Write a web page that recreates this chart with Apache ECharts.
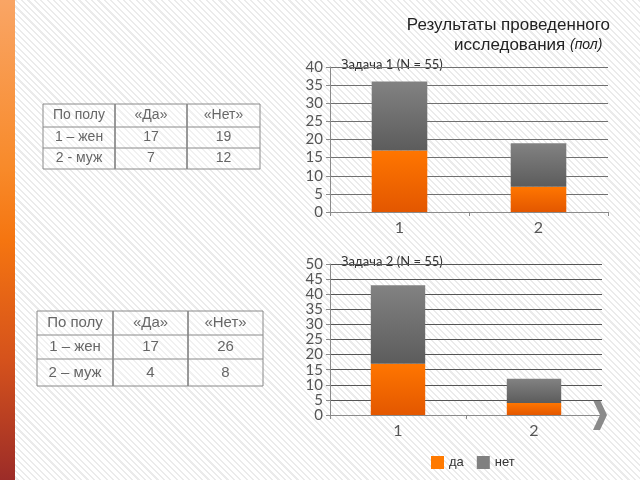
<!DOCTYPE html>
<html><head><meta charset="utf-8">
<script src="https://cdn.jsdelivr.net/npm/echarts@6/dist/echarts.min.js"></script>
<style>
html,body{margin:0;padding:0;width:640px;height:480px;overflow:hidden;
background:#fff repeating-linear-gradient(45deg,#fff 0px,#fff 3px,#ebebeb 3px,#ebebeb 4.5px);}
#strip{position:absolute;left:0;top:0;width:15px;height:480px;
background:linear-gradient(to bottom,#f9a565 0%,#f88a2a 35%,#f57510 50%,#d5521c 75%,#9c2c28 100%);}
#c{position:absolute;left:0;top:0;width:640px;height:480px;}
</style></head><body>
<div id="strip"></div>
<div id="c"></div>
<script>
const categories = ['1', '2'];
const task1Yes = [17, 7];
const task1No = [19, 12];
const task2Yes = [17, 4];
const task2No = [26, 8];
const tableHeader = ['По полу', '«Да»', '«Нет»'];
const table1Rows = [['1 – жен', '17', '19'], ['2 - муж', '7', '12']];
const table2Rows = [['1 – жен', '17', '26'], ['2 – муж', '4', '8']];
const chart1Title = 'Задача 1 (N = 55)';
const chart2Title = 'Задача 2 (N = 55)';
const legendNames = ['да', 'нет'];

const FONT = '"Liberation Sans", "DejaVu Sans", sans-serif';
const CFONT = 'Lato, "Liberation Sans", sans-serif';
const orange = new echarts.graphic.LinearGradient(0,0,0,1,[{offset:0,color:'#ff7600'},{offset:1,color:'#e35700'}]);
const gray = new echarts.graphic.LinearGradient(0,0,0,1,[{offset:0,color:'#828282'},{offset:1,color:'#5c5c5c'}]);

function buildTable(x, y, colW, rowH, header, rows, fs) {
  const els = [];
  const allRows = [header].concat(rows);
  const W = colW.reduce((a,b)=>a+b,0);
  const H = rowH.reduce((a,b)=>a+b,0);
  els.push({type:'rect', shape:{x:x, y:y, width:W, height:H}, style:{fill:'rgba(255,255,255,0.3)', stroke:'#8a8a8a', lineWidth:1}});
  let cy = y;
  for (let r = 0; r < allRows.length; r++) {
    let cx = x;
    for (let c = 0; c < colW.length; c++) {
      els.push({type:'text', x: cx + colW[c]/2, y: cy + rowH[r]/2,
        style:{text: allRows[r][c], fill:'#666', font: fs + 'px ' + FONT, align:'center', verticalAlign:'middle'}});
      if (c > 0) els.push({type:'line', shape:{x1:cx, y1:y, x2:cx, y2:y+H}, style:{stroke:'#8a8a8a', lineWidth:1}});
      cx += colW[c];
    }
    if (r > 0) els.push({type:'line', shape:{x1:x, y1:cy, x2:x+W, y2:cy}, style:{stroke:'#8a8a8a', lineWidth:1}});
    cy += rowH[r];
  }
  return els;
}

const chart = echarts.init(document.getElementById('c'), null, {renderer:'canvas'});

function yAxisCfg(gridIndex, max, lineColor) {
  return {type:'value', gridIndex:gridIndex, min:0, max:max, interval:5,
    axisLine:{show:true, lineStyle:{color:'#8a8a8a'}},
    axisTick:{show:true, length:4, lineStyle:{color:'#8a8a8a'}},
    axisLabel:{color:'#555', fontSize:15, fontFamily:CFONT, margin:7},
    splitLine:{show:true, lineStyle:{color:lineColor, width:1.2}}};
}
function xAxisCfg(gridIndex) {
  return {type:'category', gridIndex:gridIndex, data:categories,
    axisLine:{show:true, lineStyle:{color:'#8a8a8a'}},
    axisTick:{show:true, length:4, lineStyle:{color:'#8a8a8a'}},
    axisLabel:{color:'#555', fontSize:16, fontFamily:CFONT, margin:8}};
}

const graphics = []
  .concat(buildTable(43, 104, [72, 72, 73], [23, 21, 21], tableHeader, table1Rows, 14))
  .concat(buildTable(37, 311, [76, 75, 75], [24, 24, 27], tableHeader, table2Rows, 15))
  .concat([
    {type:'text', right:30, top:17, style:{text:'Результаты проведенного', fill:'#222', font:'17px ' + FONT, align:'right'}},
    {type:'text', left:454, top:37, style:{rich:{a:{fontSize:17, fontFamily:FONT, fill:'#222'}, b:{fontSize:14, fontStyle:'italic', fontFamily:FONT, fill:'#222'}}, text:'{a|исследования }{b|(пол)}'}},
    {type:'text', left:341, top:58, style:{text:chart1Title, fill:'#333', font:'13px ' + CFONT}},
    {type:'text', left:341, top:255, style:{text:chart2Title, fill:'#333', font:'13px ' + CFONT}},
    {type:'polygon', shape:{points:[[593,400],[600,400],[607,415],[600,430],[593,430],[600,415]]}, style:{fill:'#8a8a8a'}}
  ]);

chart.setOption({
  backgroundColor:'transparent',
  animation:false,
  grid:[
    {left:330, right:32, top:67, bottom:268},
    {left:330, right:38, top:264, bottom:65}
  ],
  xAxis:[xAxisCfg(0), xAxisCfg(1)],
  yAxis:[yAxisCfg(0, 40, '#707070'), yAxisCfg(1, 50, '#555')],
  legend:{data:[{name:legendNames[0], itemStyle:{color:'#ff7a00'}}, {name:legendNames[1], itemStyle:{color:'#808080'}}],
    left:426, top:451, itemWidth:13, itemHeight:13, itemGap:13, icon:'rect',
    textStyle:{color:'#333', fontSize:13, fontFamily:FONT}},
  series:[
    {name:legendNames[0], type:'bar', stack:'t1', xAxisIndex:0, yAxisIndex:0, data:task1Yes, barWidth:'40%', itemStyle:{color:orange}},
    {name:legendNames[1], type:'bar', stack:'t1', xAxisIndex:0, yAxisIndex:0, data:task1No, barWidth:'40%', itemStyle:{color:gray}},
    {name:legendNames[0], type:'bar', stack:'t2', xAxisIndex:1, yAxisIndex:1, data:task2Yes, barWidth:'40%', itemStyle:{color:orange}},
    {name:legendNames[1], type:'bar', stack:'t2', xAxisIndex:1, yAxisIndex:1, data:task2No, barWidth:'40%', itemStyle:{color:gray}}
  ],
  graphic:graphics
});
</script>
</body></html>
